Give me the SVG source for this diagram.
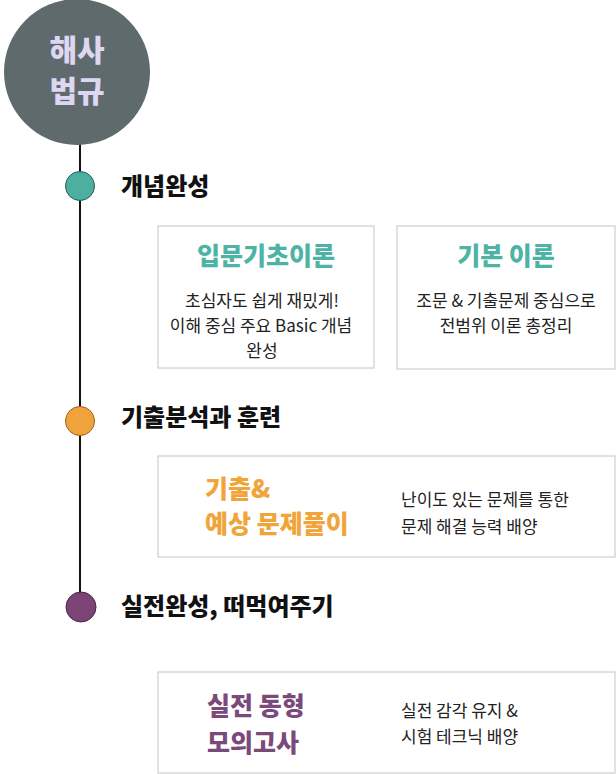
<svg xmlns="http://www.w3.org/2000/svg" width="616" height="774" viewBox="0 0 616 774">
<style>
text{font-family:"Noto Sans CJK KR","Noto Sans",sans-serif}
.card{fill:#fff;stroke:#d8d8d8;stroke-width:1.5}
.step{font-size:24px;font-weight:900;fill:#111}
.body{font-size:17px;fill:#222}
.t{font-size:25px;font-weight:900}
.teal{fill:#4db3a4}
.orange{fill:#f0a43a}
.purple{fill:#7c4a7a}
.dot{stroke-width:1}
.root{font-size:30px;font-weight:900;fill:#ddd7f2}
</style>
<rect width="616" height="774" fill="#fff"/>
<g id="connectors">
<line x1="80" y1="140" x2="80" y2="600" stroke="#111" stroke-width="2"/>
</g>
<g id="root">
<circle cx="77" cy="72" r="73" fill="#5f6a6d"/>
<text class="root" x="77" y="61" text-anchor="middle">해사</text>
<text class="root" x="77" y="102" text-anchor="middle">법규</text>
</g>
<g id="step1">
<circle class="dot" cx="80" cy="186" r="14.5" fill="#4caf9f" stroke="#1f5f55"/>
<text class="step" x="121" y="195">개념완성</text>
</g>
<g id="card1">
<rect class="card" x="158" y="226" width="216" height="142"/>
<text class="t teal" x="266" y="265" text-anchor="middle">입문기초이론</text>
<text class="body" x="262" y="307" text-anchor="middle" font-size="16.5">초심자도 쉽게 재밌게!</text>
<text class="body" x="261" y="332" text-anchor="middle" font-size="16.5">이해 중심 주요 Basic 개념</text>
<text class="body" x="262" y="357" text-anchor="middle" font-size="16.5">완성</text>
</g>
<g id="card2">
<rect class="card" x="397" y="226" width="218" height="143"/>
<text class="t teal" x="506" y="265" text-anchor="middle">기본 이론</text>
<text class="body" x="506" y="307" text-anchor="middle">조문 &amp; 기출문제 중심으로</text>
<text class="body" x="506" y="332" text-anchor="middle">전범위 이론 총정리</text>
</g>
<g id="step2">
<circle class="dot" cx="80" cy="421" r="14.5" fill="#f0a33b" stroke="#9a6418"/>
<text class="step" x="121" y="426">기출분석과 훈련</text>
</g>
<g id="card3">
<rect class="card" x="158" y="456" width="457" height="101"/>
<text class="t orange" x="205" y="498">기출&amp;</text>
<text class="t orange" x="205" y="533">예상 문제풀이</text>
<text class="body" x="401" y="506">난이도 있는 문제를 통한</text>
<text class="body" x="401" y="533">문제 해결 능력 배양</text>
</g>
<g id="step3">
<circle class="dot" cx="81" cy="607" r="15" fill="#7a4575" stroke="#4e2449"/>
<text class="step" x="121" y="615">실전완성, 떠먹여주기</text>
</g>
<g id="card4">
<rect class="card" x="158" y="672" width="457" height="101"/>
<text class="t purple" x="207" y="715">실전 동형</text>
<text class="t purple" x="207" y="752">모의고사</text>
<text class="body" x="401" y="717">실전 감각 유지 &amp;</text>
<text class="body" x="401" y="743">시험 테크닉 배양</text>
</g>
</svg>
